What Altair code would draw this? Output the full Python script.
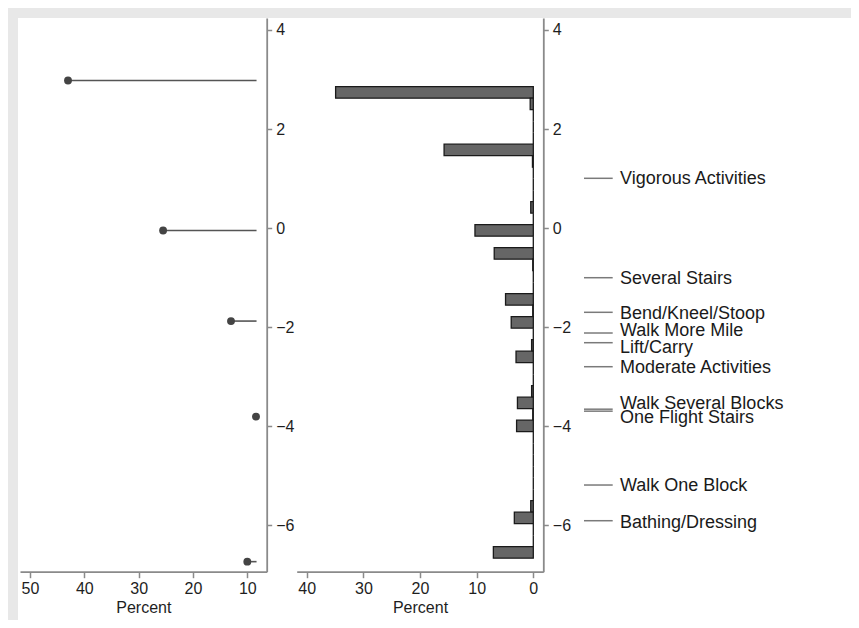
import altair as alt
import pandas as pd

# ---------------- data ----------------
# Left panel (lollipop): vertical position and percent
dot_y = [2.98, -0.05, -1.88, -3.81, -6.74]
dot_pct = [43.0, 25.5, 13.0, 8.4, 10.0]
lollipop_base = 8.3

# Right panel (horizontal histogram): bin centres and percent
bin_centers = [2.739, 2.507, 2.274, 2.042, 1.810, 1.577, 1.345, 1.113, 0.880,
               0.648, 0.416, 0.183, -0.049, -0.281, -0.514, -0.746, -0.978,
               -1.211, -1.443, -1.675, -1.908, -2.140, -2.372, -2.605, -2.837,
               -3.069, -3.302, -3.534, -3.766, -3.998, -4.231, -4.463, -4.695,
               -4.928, -5.160, -5.392, -5.625, -5.857, -6.089, -6.322, -6.554]
bin_pct = [34.9, 0.55, 0, 0, 0, 15.75, 0.15, 0, 0, 0, 0.45, 0, 10.3, 0, 6.9,
           0.1, 0, 0, 4.9, 0.1, 3.9, 0, 0.3, 3.05, 0, 0, 0.3, 2.8, 0.1, 2.95,
           0, 0, 0, 0, 0, 0, 0.45, 3.35, 0, 0, 7.05]

# Item labels on the far right
label_names = ["Vigorous Activities", "Several Stairs", "Bend/Kneel/Stoop",
               "Walk More Mile", "Lift/Carry", "Moderate Activities",
               "Walk Several Blocks", "One Flight Stairs", "Walk One Block",
               "Bathing/Dressing"]
label_line_y = [1.004, -1.004, -1.703, -2.121, -2.317, -2.802, -3.66, -3.70,
                -5.192, -5.913]
label_text_y = [0.984, -1.024, -1.731, -2.081, -2.430, -2.828, -3.556, -3.844,
                -5.212, -5.953]

y_ticks = [-6, -4, -2, 0, 2, 4]
x1_ticks = [50, 40, 30, 20, 10]
x2_ticks = [40, 30, 20, 10, 0]

# ---------------- tables ----------------
lolli_df = pd.DataFrame({"y": dot_y, "pct": dot_pct,
                         "base": [lollipop_base] * len(dot_y)})
bars_df = pd.DataFrame({"y": bin_centers, "pct": bin_pct,
                        "zero": [0.0] * len(bin_pct)})
lab_df = pd.DataFrame({"name": label_names, "line_y": label_line_y,
                       "text_y": label_text_y})
bg_df = pd.DataFrame({"bg": [0]})

FONT = "Liberation Sans"
W, H = 833, 602

yscale = alt.Scale(domain=[-6.943, 4.2424], range=[553.7, 0], nice=False,
                   zero=False, padding=0)

axis_style = dict(domainColor="#8a8a8a", domainWidth=1.8, tickColor="#8a8a8a",
                  tickWidth=1.5, labelColor="#1e1e1e", labelFontSize=16,
                  labelFont=FONT, grid=False, zindex=2)


def y_axis(xpos):
    return alt.Axis(orient="right", offset=xpos - W, values=y_ticks, title=None,
                    tickSize=5, labelPadding=4, **axis_style)


def x_axis(vals):
    return alt.Axis(orient="bottom", offset=553.7 - H, values=vals, title="Percent",
                    tickSize=6, labelPadding=3, titlePadding=3, titleFontSize=16,
                    titleFont=FONT, titleFontWeight="normal", titleColor="#1e1e1e",
                    labelFlush=False, **axis_style)


# white plotting background
background = alt.Chart(bg_df).mark_rect(color="white").encode(
    x=alt.value(0), x2=alt.value(W), y=alt.value(0), y2=alt.value(H))

x1 = alt.X("pct:Q", scale=alt.Scale(domain=[51.84, 6.43], range=[2, 248.7],
                                    nice=False, zero=False, padding=0),
           axis=x_axis(x1_ticks))
y1 = alt.Y("y:Q", scale=yscale, axis=y_axis(248.7))

stems = alt.Chart(lolli_df).mark_rule(color="#555555", strokeWidth=1.6).encode(
    x=x1, x2="base:Q", y=y1)
dots = alt.Chart(lolli_df).mark_circle(size=62, color="#444444", opacity=1).encode(
    x=x1, y=y1)

x2 = alt.X("pct:Q", scale=alt.Scale(domain=[41.77, -1.765], range=[278.7, 525.3],
                                    nice=False, zero=False, padding=0),
           axis=x_axis(x2_ticks))
bars = alt.Chart(bars_df).mark_bar(orient="horizontal", size=11.5, fill="#666666",
                                   stroke="#1a1a1a", strokeWidth=1.3).encode(
    x=x2, x2="zero:Q", y=alt.Y("y:Q", scale=yscale, axis=y_axis(525.3)))

lab_rules = alt.Chart(lab_df).mark_rule(color="#7a7a7a", strokeWidth=1.5).encode(
    x=alt.value(566), x2=alt.value(594.7),
    y=alt.Y("line_y:Q", scale=yscale, axis=None))
lab_text = alt.Chart(lab_df).mark_text(align="left", baseline="middle", fontSize=18,
                                       font=FONT, color="#1a1a1a").encode(
    x=alt.value(602), y=alt.Y("text_y:Q", scale=yscale, axis=None), text="name:N")

chart = alt.layer(background, alt.layer(stems, dots), bars, lab_rules,
                  lab_text).resolve_scale(
    x="independent", y="independent").properties(
    width=W, height=H, autosize=alt.AutoSizeParams(type="none"),
    padding={"left": 10, "top": 10, "right": 0, "bottom": 0},
    background="#e8e8e8").configure_view(stroke="transparent").configure(
    font=FONT)

chart.save("out.html", embed_options={"renderer": "svg", "actions": False})
